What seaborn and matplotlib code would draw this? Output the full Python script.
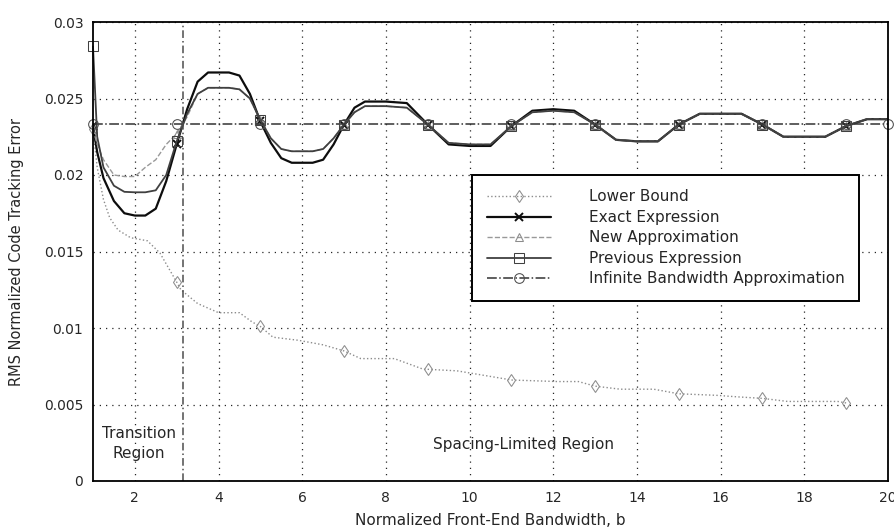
import numpy as np
import pandas as pd
import matplotlib
matplotlib.use("Agg")
import matplotlib.pyplot as plt
import seaborn as sns

# ---------------- data ----------------
B_OSC = [1.0, 1.1, 1.25, 1.5, 1.75, 2.0, 2.25, 2.5, 2.75, 3.0, 3.25, 3.5, 3.75,
         4.0, 4.25, 4.5, 4.75, 5.0, 5.25, 5.5, 5.75, 6.0, 6.25, 6.5, 6.75, 7.0,
         7.25, 7.5, 8.0, 8.5, 9.0, 9.5, 10.0, 10.5, 11.0, 11.5, 12.0, 12.5, 13.0,
         13.5, 14.0, 14.5, 15.0, 15.5, 16.0, 16.5, 17.0, 17.5, 18.0, 18.5, 19.0,
         19.5, 20.0]

EXACT = [0.0232, 0.0215, 0.0198, 0.0183, 0.0175, 0.01735, 0.01735, 0.0178, 0.0196,
         0.0220, 0.0243, 0.0261, 0.0267, 0.0267, 0.0267, 0.0265, 0.0253, 0.0235,
         0.0221, 0.0211, 0.0208, 0.0208, 0.0208, 0.0210, 0.0220, 0.0233, 0.0244,
         0.0248, 0.0248, 0.0247, 0.0233, 0.0220, 0.0219, 0.0219, 0.0232, 0.0242,
         0.0243, 0.0242, 0.0233, 0.0223, 0.0222, 0.0222, 0.0233, 0.0240, 0.0240,
         0.0240, 0.0233, 0.0225, 0.0225, 0.0225, 0.0232, 0.02365, 0.02365]

PREVIOUS = [0.0284, 0.0225, 0.0205, 0.0193, 0.0189, 0.01887, 0.01887, 0.0190, 0.0200,
            0.0222, 0.0240, 0.0253, 0.0257, 0.0257, 0.0257, 0.0256, 0.0250, 0.0236,
            0.0224, 0.0217, 0.02155, 0.02155, 0.02155, 0.0217, 0.0224, 0.0233, 0.0241,
            0.0245, 0.0245, 0.0244, 0.0233, 0.0221, 0.0220, 0.0220, 0.0232, 0.0241,
            0.0242, 0.0241, 0.0233, 0.0223, 0.0222, 0.0222, 0.0233, 0.0240, 0.0240,
            0.0240, 0.0233, 0.0225, 0.0225, 0.0225, 0.0232, 0.02365, 0.02365]

NEW_APPROX = [0.0230, 0.0220, 0.0210, 0.0200, 0.0199, 0.0199, 0.0205, 0.0210, 0.0220,
              0.0227, 0.0238, 0.0253, 0.0257, 0.0257, 0.0257, 0.0256, 0.0250, 0.0236,
              0.0224, 0.0217, 0.02155, 0.02155, 0.02155, 0.0217, 0.0224, 0.0233, 0.0241,
              0.0245, 0.0245, 0.0244, 0.0233, 0.0221, 0.0220, 0.0220, 0.0232, 0.0241,
              0.0242, 0.0241, 0.0233, 0.0223, 0.0222, 0.0222, 0.0233, 0.0240, 0.0240,
              0.0240, 0.0233, 0.0225, 0.0225, 0.0225, 0.0232, 0.02365, 0.02365]

B_LOWER = [1.0, 1.1, 1.25, 1.4, 1.6, 1.9, 2.3, 2.6, 3.0, 3.1, 3.5, 4.0, 4.5, 4.8,
           5.0, 5.3, 5.9, 6.5, 7.0, 7.4, 8.2, 8.9, 9.0, 9.7, 10.9, 11.0, 12.1,
           12.6, 13.0, 13.6, 14.4, 15.0, 15.9, 16.4, 17.0, 17.6, 18.8, 19.0]
LOWER = [0.0230, 0.0205, 0.0184, 0.0172, 0.0164, 0.0159, 0.0157, 0.0149, 0.0130,
         0.0125, 0.0116, 0.0110, 0.0110, 0.0104, 0.0101, 0.0094, 0.0092, 0.0089,
         0.0085, 0.0080, 0.0080, 0.0073, 0.0073, 0.0072, 0.00665, 0.0066, 0.0065,
         0.0065, 0.0062, 0.0060, 0.0060, 0.0057, 0.0056, 0.0055, 0.0054, 0.0052,
         0.0052, 0.0051]

B_INF = [1, 3, 5, 7, 9, 11, 13, 15, 17, 19, 20]
INF_VALUE = 0.02335

BOUNDARY_B = 3.15
X_TICKS = [2, 4, 6, 8, 10, 12, 14, 16, 18, 20]
Y_TICKS = [0, 0.005, 0.01, 0.015, 0.02, 0.025, 0.03]
Y_TICK_LABELS = ["0", "0.005", "0.01", "0.015", "0.02", "0.025", "0.03"]

# ---------------- style ----------------
sns.set_theme(style="white")
plt.rcParams["font.family"] = ["DejaVu Sans"]

fig = plt.figure(figsize=(8.95, 5.29), dpi=100)
ax = fig.add_axes([93 / 895, 1 - 481 / 529, (888 - 93) / 895, (481 - 22) / 529])


def odd_idx(bs):
    return [i for i, b in enumerate(bs) if abs(b - round(b)) < 1e-9 and int(round(b)) % 2 == 1]


df_low = pd.DataFrame({"b": B_LOWER, "v": LOWER})
df_osc = pd.DataFrame({"b": B_OSC, "exact": EXACT, "prev": PREVIOUS, "new": NEW_APPROX})
df_inf = pd.DataFrame({"b": B_INF, "v": [INF_VALUE] * len(B_INF)})

sns.lineplot(data=df_low, x="b", y="v", ax=ax, color="0.55", lw=1.0, linestyle=":",
             marker="d", markersize=6, markerfacecolor="none", markeredgecolor="0.55",
             markevery=odd_idx(B_LOWER), label="Lower Bound", clip_on=False)
sns.lineplot(data=df_osc, x="b", y="exact", ax=ax, color="0.05", lw=1.6, linestyle="-",
             marker="x", markersize=6, markeredgewidth=1.4, markeredgecolor="0.05",
             markevery=odd_idx(B_OSC), label="Exact Expression")
sns.lineplot(data=df_osc, x="b", y="new", ax=ax, color="0.6", lw=1.0, linestyle="--",
             marker="^", markersize=6, markerfacecolor="none", markeredgecolor="0.55",
             markevery=odd_idx(B_OSC), label="New Approximation")
sns.lineplot(data=df_osc, x="b", y="prev", ax=ax, color="0.25", lw=1.3, linestyle="-",
             marker="s", markersize=7, markerfacecolor="none", markeredgecolor="0.25",
             markevery=odd_idx(B_OSC), label="Previous Expression", clip_on=False)
sns.lineplot(data=df_inf, x="b", y="v", ax=ax, color="0.2", lw=1.1, linestyle="-.",
             marker="o", markersize=7, markerfacecolor="none", markeredgecolor="0.3",
             label="Infinite Bandwidth Approximation", clip_on=False)

ax.axvline(BOUNDARY_B, color="0.3", lw=1.1, linestyle=(0, (5, 2, 1, 2)))

ax.set_xlim(1, 20)
ax.set_ylim(0, 0.03)
ax.set_xticks(X_TICKS)
ax.set_xticklabels([str(t) for t in X_TICKS])
ax.set_yticks(Y_TICKS)
ax.set_yticklabels(Y_TICK_LABELS)
ax.tick_params(direction="in", length=4, color="black", labelsize=10, pad=7)
ax.grid(True, color="0.15", linestyle=(0, (1, 4)), lw=0.9)
for s in ax.spines.values():
    s.set_color("black")
    s.set_linewidth(1.3)

ax.set_xlabel("Normalized Front-End Bandwidth, b", fontsize=11, labelpad=6)
ax.set_ylabel("RMS Normalized Code Tracking Error", fontsize=10.5, labelpad=14)

ax.text(2.1, 0.0031, "Transition", ha="center", va="center", fontsize=11)
ax.text(2.1, 0.0018, "Region", ha="center", va="center", fontsize=11)
ax.text(11.3, 0.0024, "Spacing-Limited Region", ha="center", va="center", fontsize=11)

leg = ax.legend(loc="upper left", bbox_to_anchor=(0.477, 0.667), bbox_transform=ax.transAxes,
                frameon=True, fancybox=False, edgecolor="black", fontsize=11,
                handlelength=4.2, handletextpad=2.5, borderpad=0.95, labelspacing=0.36,
                borderaxespad=0)
leg.get_frame().set_linewidth(1.4)
leg.get_frame().set_facecolor("white")
leg.get_frame().set_alpha(1)

fig.savefig("out.png", dpi=100)
